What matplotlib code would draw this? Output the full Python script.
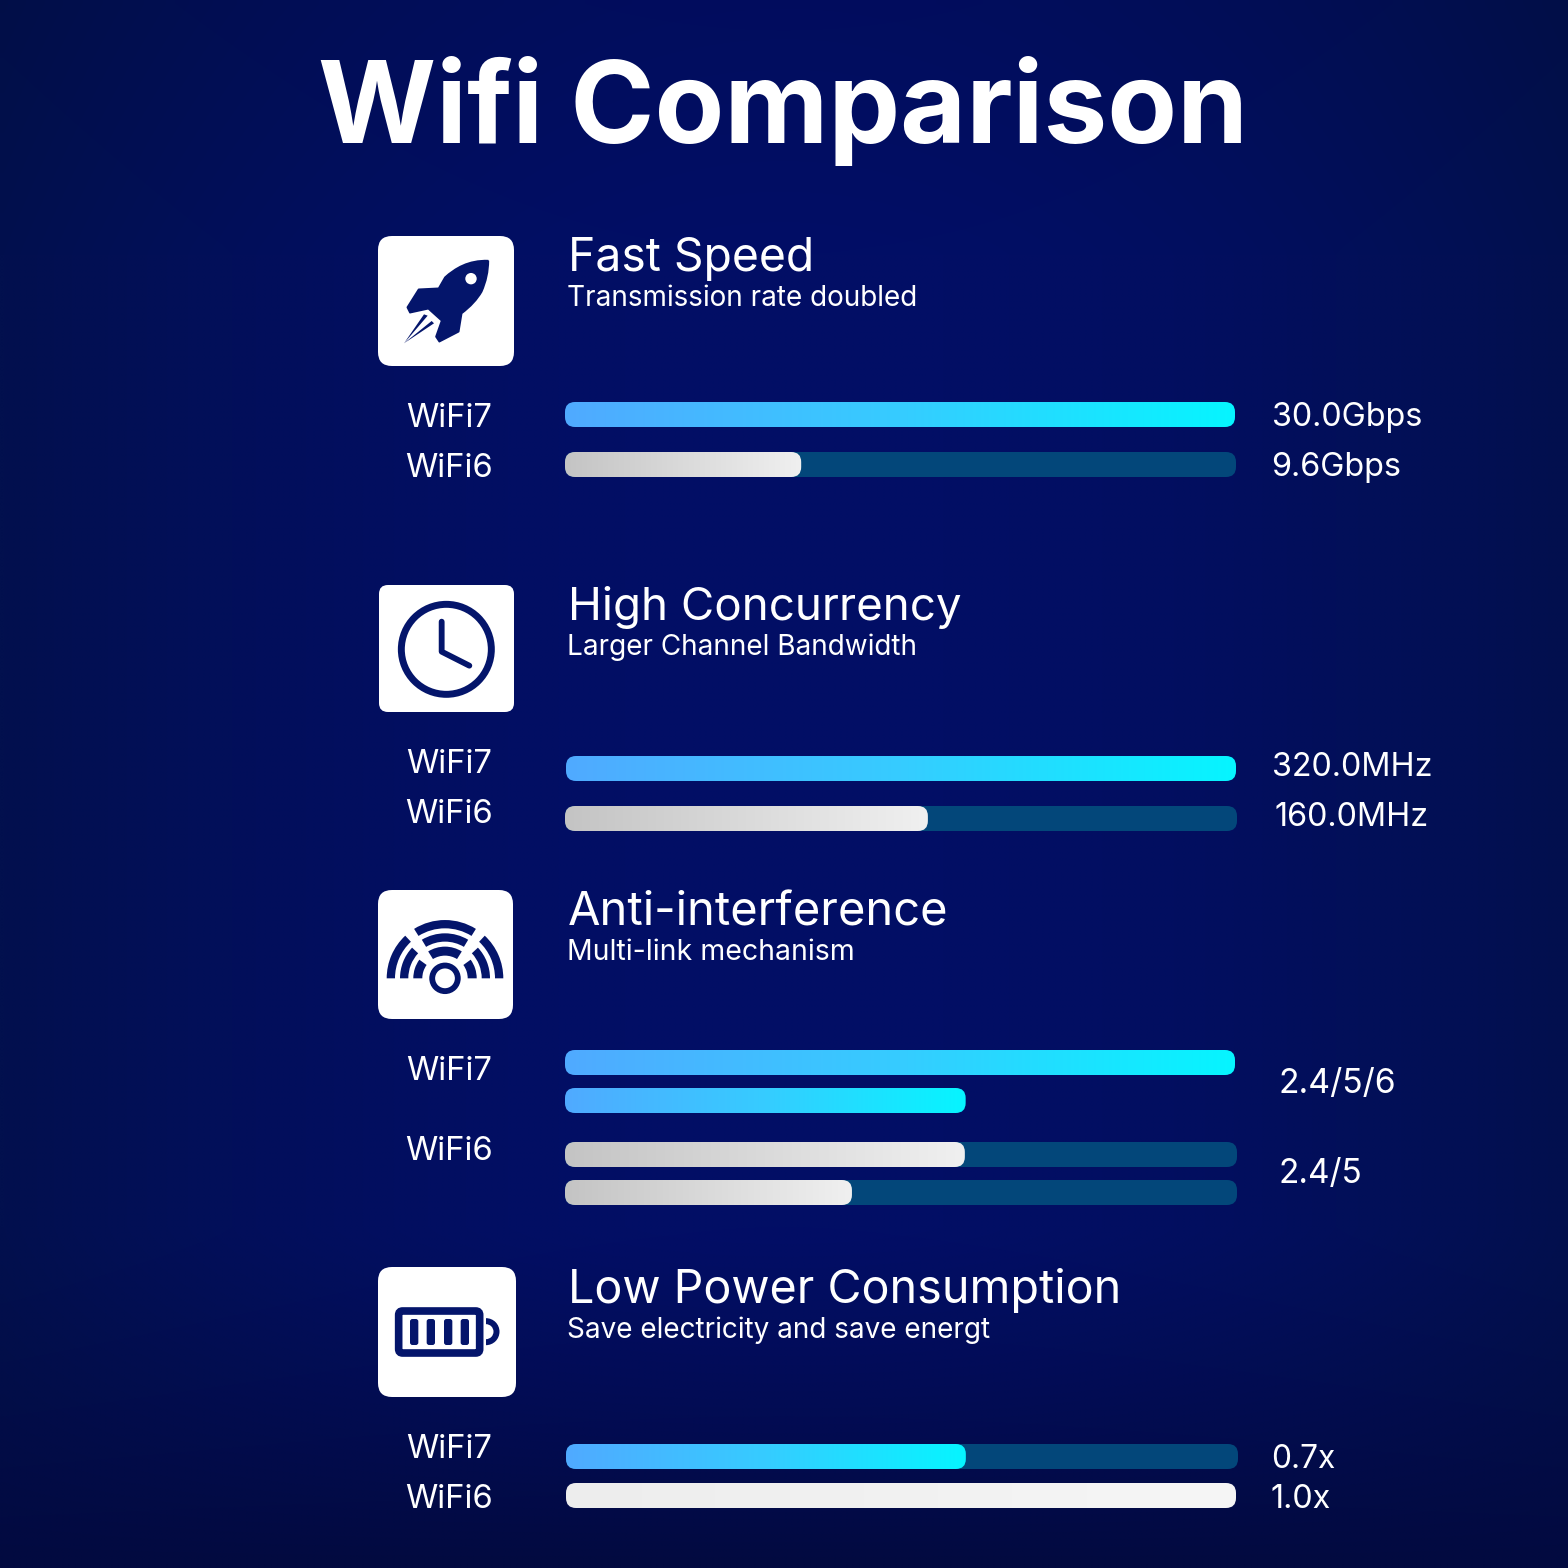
import numpy as np
import matplotlib
matplotlib.use('Agg')
import matplotlib.pyplot as plt
from matplotlib.colors import LinearSegmentedColormap, to_rgb
from matplotlib.patches import FancyBboxPatch, Circle, Wedge, PathPatch
from matplotlib.path import Path

plt.rcParams['font.family'] = ['Inter', 'DejaVu Sans']

title = 'Wifi Comparison'
headings = ['Fast Speed', 'High Concurrency', 'Anti-interference', 'Low Power Consumption']
subheads = ['Transmission rate doubled', 'Larger Channel Bandwidth',
            'Multi-link mechanism', 'Save electricity and save energt']

# share of the track that is filled
speed_fill = [1.0, 0.352]
channel_fill = [1.0, 0.54]
link_fill = [1.0, 0.598, 0.595, 0.427]
power_fill = [0.595, 1.0]

speed_labels = ['30.0Gbps', '9.6Gbps']
channel_labels = ['320.0MHz', '160.0MHz']
link_labels = ['2.4/5/6', '2.4/5']
power_labels = ['0.7x', '1.0x']

NAVY = '#04156b'
TRACK = '#03477a'
blue_cmap = LinearSegmentedColormap.from_list('blue', ['#50aaff', '#36ccff', '#06f5ff'])
grey_cmap = LinearSegmentedColormap.from_list('grey', ['#c4c4c4', '#f0f0f0'])
light_cmap = LinearSegmentedColormap.from_list('light', ['#ededed', '#f6f6f6'])

fig = plt.figure(figsize=(15.68, 15.68), dpi=100)
ax = fig.add_axes([0, 0, 1, 1])
ax.set_xlim(0, 1568)
ax.set_ylim(1568, 0)
ax.axis('off')

# background, brighter blue in the middle, dull at the sides, dark at the bottom
yy, xx = np.mgrid[0:1568:200j, 0:1568:200j]
side = (np.abs(xx - 784) / 784)[..., None] ** 2
low = (np.clip((yy - 1230) / 338, 0, 1))[..., None] ** 1.2
top = (np.clip((250 - yy) / 250, 0, 1))[..., None]
bg = np.array(to_rgb('#020e66')) * (1 - side) + np.array(to_rgb('#02104e')) * side
bg = bg * (1 - top * 0.08)
bg = bg * (1 - low) + np.array(to_rgb('#020a40')) * low
ax.imshow(bg, extent=[0, 1568, 1568, 0], aspect='auto', zorder=0, interpolation='bilinear')
ax.set_xlim(0, 1568)
ax.set_ylim(1568, 0)


def rounded(x, y, w, h, r, color, z=2):
    p = FancyBboxPatch((x + r, y + r), w - 2 * r, h - 2 * r,
                       boxstyle='round,pad=%f,rounding_size=%f' % (r, r),
                       fc=color, ec='none', zorder=z)
    ax.add_patch(p)
    return p


def bar(x, y, fill, cmap, track=True, width=671, height=25):
    if track:
        rounded(x, y, width, height, 10, TRACK, 2)
    w = width * fill
    p = rounded(x, y, w, height, 10, 'none', 3)
    grad = np.linspace(0, 1, 256).reshape(1, -1)
    im = ax.imshow(grad, cmap=cmap, extent=[x, x + w, y + height, y], aspect='auto', zorder=3)
    im.set_clip_path(p)
    ax.set_xlim(0, 1568)
    ax.set_ylim(1568, 0)


def txt(x, y, s, size, weight='normal', ha='left'):
    ax.text(x, y, s, color='white', fontsize=size, fontweight=weight, ha=ha,
            va='baseline', zorder=5)


def rocket():
    verts = [(385, 122), (325, 120), (285, 145), (255, 172), (236, 205),
             (176, 208), (142, 262), (150, 278), (205, 266), (245, 302),
             (228, 350), (238, 365), (296, 335), (305, 280),
             (345, 250), (365, 215), (385, 170), (385, 122)]
    codes = [Path.MOVETO, Path.CURVE4, Path.CURVE4, Path.CURVE4, Path.LINETO,
             Path.LINETO, Path.LINETO, Path.LINETO, Path.LINETO, Path.LINETO,
             Path.LINETO, Path.LINETO, Path.LINETO, Path.LINETO,
             Path.CURVE3, Path.CURVE3, Path.CURVE3, Path.CURVE3]
    verts = np.array(verts, float) / 3 + [360, 220]
    ax.add_patch(PathPatch(Path(verts, codes), fc=NAVY, ec=NAVY, lw=1.2, joinstyle='round', zorder=4))
    ax.add_patch(Circle((360 + 333 / 3, 220 + 176 / 3), 5.7, fc='white', ec='none', zorder=5))
    for a, b in [((203, 287), (192, 283)), ((222, 310), (215, 303))]:
        tri = np.array([(132, 370), a, b, (132, 370)], float) / 3 + [360, 220]
        ax.add_patch(PathPatch(Path(tri), fc=NAVY, ec='none', zorder=4))


def clock():
    cx, cy = 360 + 259 / 3, 570 + 238 / 3
    ax.add_patch(Circle((cx, cy), 45, fc='none', ec=NAVY, lw=5.0, zorder=4))
    hx = np.array([245, 245, 328]) / 3 + 360
    hy = np.array([155, 245, 287]) / 3 + 570
    ax.plot(hx, hy, color=NAVY, lw=4.2, solid_capstyle='round', solid_joinstyle='round', zorder=4)


def wifi():
    cx, cy = 360 + 255 / 3, 880 + 295 / 3
    ax.add_patch(Circle((cx, cy), 12.8, fc='none', ec=NAVY, lw=4.2, zorder=4))
    for r, w, top_a, side_a in [(58.3, 8.3, 32, 47), (45, 8.3, 31, 43), (31.7, 9, 32, 36)]:
        ax.add_patch(Wedge((cx, cy), r, 270 - top_a, 270 + top_a, width=w, fc=NAVY, ec='none', zorder=4))
        ax.add_patch(Wedge((cx, cy), r, 180, 180 + side_a, width=w, fc=NAVY, ec='none', zorder=4))
        ax.add_patch(Wedge((cx, cy), r, 360 - side_a, 360, width=w, fc=NAVY, ec='none', zorder=4))


def battery():
    ox, oy = 360, 1260
    ax.add_patch(Wedge((ox + 378 / 3, oy + 215 / 3), 13.5, 270, 90, width=6, fc=NAVY, ec='none', zorder=4))
    p = FancyBboxPatch((ox + 116 / 3, oy + 153 / 3), 243 / 3, 126 / 3,
                       boxstyle='round,pad=0,rounding_size=4', fc='white', ec=NAVY, lw=5.5, zorder=4)
    ax.add_patch(p)
    for zx in [150, 200, 252, 302]:
        rounded(ox + zx / 3, oy + 177 / 3, 25 / 3, 78 / 3, 2.5, NAVY, 4)


# title
txt(318, 143, title, 82, 'bold')

# icon tiles
rounded(378, 236, 136, 130, 14, 'white', 3)
rounded(379, 585, 135, 127, 9, 'white', 3)
rounded(378, 890, 135, 129, 14, 'white', 3)
rounded(378, 1267, 138, 130, 14, 'white', 3)
rocket()
clock()
wifi()
battery()

# headings
for y, h, size, s, sub_size in zip([271, 620, 925, 1303], headings, [33.3, 32.9, 33.9, 33.6],
                                   subheads, [20.1, 20.1, 20.5, 20.1]):
    txt(568, y, h, size)
    txt(567, y + 35, s, sub_size)

# row labels
for y, s in zip([427, 477, 773, 823, 1080, 1160, 1458, 1508],
                ['WiFi7', 'WiFi6'] * 4):
    txt(449, y, s, 23.6, ha='center')

# section 1
bar(565, 402, speed_fill[0], blue_cmap, track=False, width=670)
bar(565, 452, speed_fill[1], grey_cmap)
txt(1272, 426, speed_labels[0], 23.3)
txt(1271, 476, speed_labels[1], 23.3)

# section 2
bar(566, 756, channel_fill[0], blue_cmap, track=False, width=670)
bar(565, 806, channel_fill[1], grey_cmap, width=672)
txt(1272, 776, channel_labels[0], 23.3)
txt(1275, 826, channel_labels[1], 23.3)

# section 3
bar(565, 1050, link_fill[0], blue_cmap, track=False, width=670)
bar(565, 1088, link_fill[1], blue_cmap, track=False, width=670)
bar(565, 1142, link_fill[2], grey_cmap, width=672)
bar(565, 1180, link_fill[3], grey_cmap, width=672)
txt(1279, 1093, link_labels[0], 24.3)
txt(1279, 1183, link_labels[1], 24)

# section 4
bar(566, 1444, power_fill[0], blue_cmap, width=672)
bar(566, 1483, power_fill[1], light_cmap, track=False, width=670)
txt(1271, 1468, power_labels[0], 22.8)
txt(1271, 1508, power_labels[1], 23.3)

fig.savefig('out.png', dpi=100)
plt.close(fig)
